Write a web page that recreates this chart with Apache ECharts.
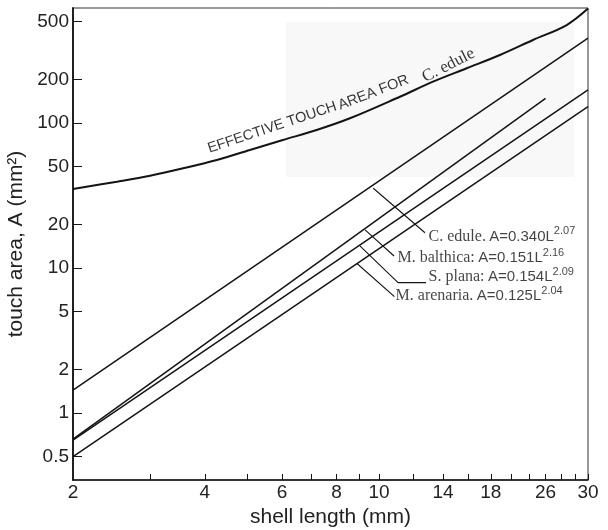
<!DOCTYPE html>
<html><head><meta charset="utf-8">
<script src="https://cdn.jsdelivr.net/npm/echarts@6/dist/echarts.min.js"></script>
<style>html,body{margin:0;padding:0;background:#fff}#c{width:608px;height:530px}</style>
</head><body><div id="c"></div>
<script>
// ---- axis values ----
const xRange = [2, 30];
const yRange = [0.345, 621];
const xTickValues = [3,4,5,6,7,8,9,10,12,14,16,18,20,22,24,26,28,30];
const xLabelPositions = [2,4,6,8,10,14,18,24,30];
const xLabelTexts = ['2','4','6','8','10','14','18','26','30'];
const yTickValues = [0.5,1,2,5,10,20,50,100,200,500];
const yTickLabels = ['0.5','1','2','5','10','20','50','100','200','500'];

// ---- series (shell length L, touch area A) ----
const cEdule = [[2,1.44],[30,385]];
const mBalthica = [[2,0.66],[24,148]];
const sPlana = [[2,0.65],[30,169]];
const mArenaria = [[2,0.5],[30,129.5]];
const effectiveTouch = [[2,35.1],[2.52,39.4],[3.0,43.3],[3.57,48.7],[4.26,55.6],[5.07,65.1],[6.03,76.3],[7.2,89.5],[8.58,107.8],[11.16,151.8],[13.28,192.7],[15.85,238.4],[18.88,294.4],[22.46,373.6],[26.82,474],[30,615]];

// ---- annotations ----
const speciesNames = ['C. edule.','M. balthica:','S. plana:','M. arenaria.'];
const formulas = ['A=0.340L','A=0.151L','A=0.154L','A=0.125L'];
const exponents = ['2.07','2.16','2.09','2.04'];
const labelAnchors = [[12.87,16.4],[10.93,11.7],[12.87,8.67],[10.82,6.41]];
const leaders = [
  [[9.70,35.5],[12.73,17.5]],
  [[9.29,18.3],[10.82,12.1]],
  [[9.04,14.2],[11.05,7.92],[12.80,7.92]],
  [[8.89,10.78],[10.84,6.34]]
];
const curveTitleParts = ['EFFECTIVE TOUCH','AREA FOR','C. edule'];
const curveTitleAnchors = [[5.70,93],[9.71,162],[14.40,250]];
const scanPatch = [[6.13,42.4],[27.87,497]];

const lg = Math.log10;
const toLog = pts => pts.map(p => [lg(p[0]), lg(p[1])]);
function fmtFrom(positions, texts) {
  return v => {
    for (let i = 0; i < positions.length; i++) if (Math.abs(lg(positions[i]) - v) < 1e-6) return texts[i];
    return '';
  };
}
const INK = '#141414';
const SANS = '"Liberation Sans", Arial, sans-serif';
const SERIF = '"Liberation Serif", "Times New Roman", serif';

const lineSeries = (data, width) => ({
  type: 'line', data: toLog(data), symbol: 'none', silent: true, z: 3,
  lineStyle: { color: INK, width: width }
});

const titleAngles = [18.5, 21, 27];
const titleFonts = [
  { fontFamily: SANS, fontSize: 14.5 },
  { fontFamily: SANS, fontSize: 14.5 },
  { fontFamily: SERIF, fontSize: 17 }
];

const series = [
  { type: 'line', data: [], z: 0, silent: true,
    markArea: { silent: true, itemStyle: { color: '#f8f8f8' },
      data: [[{ coord: [lg(scanPatch[0][0]), lg(scanPatch[0][1])] }, { coord: [lg(scanPatch[1][0]), lg(scanPatch[1][1])] }]] } },
  Object.assign(lineSeries(effectiveTouch, 2), { smooth: 0.35 }),
  lineSeries(cEdule, 1.5),
  lineSeries(mBalthica, 1.5),
  lineSeries(sPlana, 1.5),
  lineSeries(mArenaria, 1.5),
  ...leaders.map(l => lineSeries(l, 1.1)),
  { type: 'scatter', silent: true, z: 4, symbolSize: 1, itemStyle: { color: 'rgba(0,0,0,0)' },
    data: labelAnchors.map((p, i) => ({
      value: [lg(p[0]), lg(p[1])],
      label: { show: true, position: 'right', distance: 1,
        formatter: '{sp|' + speciesNames[i] + '} {f|' + formulas[i] + '}{sup|' + exponents[i] + '}',
        rich: {
          sp: { fontFamily: SERIF, fontSize: 16, color: INK },
          f: { fontFamily: SANS, fontSize: 15, color: INK },
          sup: { fontFamily: SANS, fontSize: 11, color: INK, padding: [0, 0, 11, 0] }
        } }
    })) },
  { type: 'scatter', silent: true, z: 4, symbolSize: 1, itemStyle: { color: 'rgba(0,0,0,0)' },
    data: curveTitleAnchors.map((p, i) => ({
      value: [lg(p[0]), lg(p[1])],
      label: Object.assign({ show: true, position: 'inside', rotate: titleAngles[i], color: '#000',
        formatter: curveTitleParts[i] }, titleFonts[i])
    })) }
];

const chart = echarts.init(document.getElementById('c'), null, { renderer: 'canvas' });
chart.setOption({
  animation: false,
  backgroundColor: '#fff',
  grid: { left: 73, right: 20, top: 8, bottom: 50, show: true, borderColor: '#333', borderWidth: 1, outerBoundsMode: 'none' },
  xAxis: {
    type: 'value', min: lg(xRange[0]), max: lg(xRange[1]),
    name: 'shell length (mm)', nameLocation: 'middle', nameGap: 25,
    nameTextStyle: { fontFamily: SANS, fontSize: 21, color: '#222' },
    axisLine: { show: true, onZero: false, lineStyle: { color: INK, width: 1.5 } },
    axisTick: { show: true, inside: true, length: 6, lineStyle: { color: INK, width: 1 }, customValues: xTickValues.map(lg) },
    axisLabel: { show: true, margin: 3, fontFamily: SANS, fontSize: 19, color: '#222',
      customValues: xLabelPositions.map(lg), formatter: fmtFrom(xLabelPositions, xLabelTexts) },
    splitLine: { show: false }
  },
  yAxis: {
    type: 'value', min: lg(yRange[0]), max: lg(yRange[1]),
    name: 'touch area, A (mm²)', nameLocation: 'middle', nameGap: 38,
    nameTextStyle: { fontFamily: SANS, fontSize: 21, color: '#222' },
    axisLine: { show: true, onZero: false, lineStyle: { color: INK, width: 1.8 } },
    axisTick: { show: true, inside: true, length: 9, lineStyle: { color: INK, width: 1 }, customValues: yTickValues.map(lg) },
    axisLabel: { show: true, margin: 4, fontFamily: SANS, fontSize: 19, color: '#222',
      customValues: yTickValues.map(lg), formatter: fmtFrom(yTickValues, yTickLabels) },
    splitLine: { show: false }
  },
  series: series
});
</script></body></html>
